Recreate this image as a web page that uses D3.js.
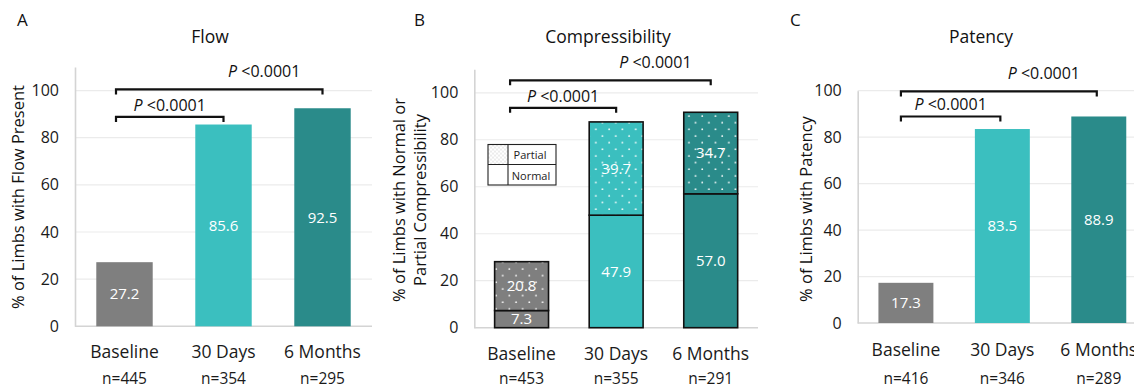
<!DOCTYPE html>
<html>
<head>
<meta charset="utf-8">
<script src="https://cdn.jsdelivr.net/npm/d3@7"></script>
<style>
  body { margin: 0; background: #fff; }
  svg { display: block; font-family: "Open Sans", sans-serif; }
</style>
</head>
<body>
<svg width="1134" height="388"></svg>
<script>
// data
const categories = ["Baseline", "30 Days", "6 Months"];
const yTicks = [0, 20, 40, 60, 80, 100];

const flowValues = [27.2, 85.6, 92.5];
const flowN = ["n=445", "n=354", "n=295"];

const compNormal = [7.3, 47.9, 57.0];
const compPartial = [20.8, 39.7, 34.7];
const compN = ["n=453", "n=355", "n=291"];

const patencyValues = [17.3, 83.5, 88.9];
const patencyN = ["n=416", "n=346", "n=289"];

const comparisons = [[0, 1], [0, 2]];
const pText = "<0.0001";

const colors = ["#7f7f7f", "#3bbfbf", "#2a8b8a"];

const svg = d3.select("svg");
const defs = svg.append("defs");

// dotted fill for the "partial" segments
colors.forEach((c, i) => {
    const p = defs.append("pattern")
        .attr("id", "dots" + i)
        .attr("patternUnits", "userSpaceOnUse")
        .attr("width", 13.3)
        .attr("height", 13.3);
    p.append("rect").attr("width", 13.3).attr("height", 13.3).attr("fill", c);
    p.append("circle").attr("cx", 4).attr("cy", 3).attr("r", 0.9).attr("fill", "#fff");
    p.append("circle").attr("cx", 10.65).attr("cy", 9.65).attr("r", 0.9).attr("fill", "#fff");
});
const lp = defs.append("pattern")
    .attr("id", "legendDots")
    .attr("patternUnits", "userSpaceOnUse")
    .attr("width", 4).attr("height", 4);
lp.append("rect").attr("width", 4).attr("height", 4).attr("fill", "#fff");
lp.append("circle").attr("cx", 1).attr("cy", 1).attr("r", 0.6).attr("fill", "#aaa");
lp.append("circle").attr("cx", 3).attr("cy", 3).attr("r", 0.6).attr("fill", "#aaa");

function drawPanel(cfg) {
    const g = svg.append("g");

    const x = d3.scaleBand()
        .domain(categories)
        .range([cfg.left, cfg.right])
        .paddingInner(0.43)
        .paddingOuter(0.215);
    const y = d3.scaleLinear()
        .domain([0, cfg.yMax])
        .range([cfg.bottom, cfg.top]);

    // gridlines
    g.append("g").selectAll("line")
        .data(yTicks.filter(d => d > 0))
        .enter().append("line")
        .attr("x1", cfg.left).attr("x2", cfg.gridEnd)
        .attr("y1", d => y(d)).attr("y2", d => y(d))
        .attr("stroke", "#ebebeb").attr("stroke-width", 1.2);

    // y axis
    const yAxis = g.append("g")
        .attr("transform", `translate(${cfg.left},0)`)
        .call(d3.axisLeft(y).tickValues(yTicks).tickSize(0).tickPadding(16));
    yAxis.select(".domain").attr("stroke", "#d4d4d4").attr("stroke-width", 1.6);
    yAxis.selectAll("text").attr("font-size", 16).attr("fill", "#1a1a1a").attr("font-family", "Open Sans");

    g.append("line")
        .attr("x1", cfg.left).attr("x2", cfg.gridEnd)
        .attr("y1", y(0)).attr("y2", y(0))
        .attr("stroke", "#d4d4d4").attr("stroke-width", 1.6);

    // x labels
    const xl = g.append("g").selectAll("g")
        .data(categories)
        .enter().append("g")
        .attr("transform", d => `translate(${x(d) + x.bandwidth() / 2},0)`);
    xl.append("text")
        .attr("y", cfg.catY)
        .attr("text-anchor", "middle")
        .attr("font-size", 17.5).attr("fill", "#1a1a1a")
        .text(d => d);
    xl.append("text")
        .attr("y", 384)
        .attr("text-anchor", "middle")
        .attr("font-size", 15.5).attr("fill", "#1a1a1a")
        .text((d, i) => cfg.n[i]);

    // bars
    cfg.drawBars(g, x, y);

    // significance brackets
    comparisons.forEach((pair, k) => {
        const by = y(cfg.bracketY[k]);
        const x1 = x(categories[pair[0]]) + x.bandwidth() / 2 + cfg.bracketOff[0];
        const x2 = x(categories[pair[1]]) + x.bandwidth() / 2 + cfg.bracketOff[1];
        g.append("path")
            .attr("d", `M${x1},${by + 5}V${by}H${x2}V${by + 5}`)
            .attr("fill", "none").attr("stroke", "#111").attr("stroke-width", 2.2);
        const t = g.append("text")
            .attr("x", (x1 + x2) / 2 + (k === 1 ? 45 : 0))
            .attr("y", by - (k === 1 ? 12 : 6))
            .attr("text-anchor", "middle")
            .attr("font-size", 16).attr("fill", "#111");
        t.append("tspan").attr("font-style", "italic").text("P");
        t.append("tspan").text(" " + pText);
    });

    // titles
    svg.append("text")
        .attr("x", cfg.letterX).attr("y", 26)
        .attr("font-size", 17).attr("fill", "#111")
        .text(cfg.letter);
    svg.append("text")
        .attr("x", cfg.titleX).attr("y", 43)
        .attr("text-anchor", "middle")
        .attr("font-size", 17.5).attr("fill", "#111")
        .text(cfg.title);
    const yt = svg.append("text")
        .attr("transform", `translate(${cfg.yTitleX},${cfg.yTitleY}) rotate(-90)`)
        .attr("text-anchor", "middle")
        .attr("font-size", 16.5).attr("fill", "#111");
    cfg.yTitle.forEach((line, i) => {
        yt.append("tspan").attr("x", 0).attr("dy", i === 0 ? 0 : "1.3em").text(line);
    });
}

function simpleBars(values) {
    return function (g, x, y) {
        const bars = g.append("g").selectAll("g")
            .data(values)
            .enter().append("g");
        bars.append("rect")
            .attr("x", (d, i) => x(categories[i]))
            .attr("width", x.bandwidth())
            .attr("y", d => y(d))
            .attr("height", d => y(0) - y(d))
            .attr("fill", (d, i) => colors[i]);
        bars.append("text")
            .attr("x", (d, i) => x(categories[i]) + x.bandwidth() / 2)
            .attr("y", d => (y(d) + y(0)) / 2)
            .attr("dy", "0.35em")
            .attr("text-anchor", "middle")
            .attr("font-size", 15).attr("fill", "#fff")
            .text(d => d.toFixed(1));
    };
}

function stackedBars(g, x, y) {
    const table = categories.map((c, i) => ({ cat: c, idx: i, normal: compNormal[i], partial: compPartial[i] }));
    const series = d3.stack().keys(["normal", "partial"])(table);
    series.forEach(s => {
        const seg = g.append("g").selectAll("g")
            .data(s)
            .enter().append("g");
        seg.append("rect")
            .attr("x", d => x(d.data.cat))
            .attr("width", x.bandwidth())
            .attr("y", d => y(d[1]))
            .attr("height", d => y(d[0]) - y(d[1]))
            .attr("fill", d => s.key === "partial" ? `url(#dots${d.data.idx})` : colors[d.data.idx])
            .attr("stroke", "#111").attr("stroke-width", 1.6);
        seg.append("text")
            .attr("x", d => x(d.data.cat) + x.bandwidth() / 2)
            .attr("y", d => (y(d[0]) + y(d[1])) / 2)
            .attr("dy", "0.35em")
            .attr("text-anchor", "middle")
            .attr("font-size", 15).attr("fill", "#fff")
            .text(d => d.data[s.key].toFixed(1));
    });

    // legend
    const lg = g.append("g").attr("transform", "translate(488,144.5)");
    lg.append("rect").attr("width", 20).attr("height", 20).attr("fill", "url(#legendDots)");
    lg.append("rect").attr("width", 68).attr("height", 40.5).attr("fill", "none")
        .attr("stroke", "#222").attr("stroke-width", 1.1);
    lg.append("line").attr("x1", 20).attr("x2", 20).attr("y1", 0).attr("y2", 40.5)
        .attr("stroke", "#222").attr("stroke-width", 1.1);
    lg.append("line").attr("x1", 0).attr("x2", 68).attr("y1", 20).attr("y2", 20)
        .attr("stroke", "#222").attr("stroke-width", 1.1);
    lg.append("text").attr("x", 42).attr("y", 14.5).attr("text-anchor", "middle")
        .attr("font-size", 11).attr("fill", "#222").text("Partial");
    lg.append("text").attr("x", 43).attr("y", 35).attr("text-anchor", "middle")
        .attr("font-size", 11).attr("fill", "#222").text("Normal");
}

drawPanel({
    letter: "A", letterX: 17, title: "Flow", titleX: 210,
    yTitle: ["% of Limbs with Flow Present"], yTitleX: 24, yTitleY: 197,
    left: 75, right: 372, gridEnd: 372, top: 67, bottom: 326.3, yMax: 110,
    catY: 358, n: flowN,
    bracketY: [88.8, 100.5], bracketOff: [-8.5, 0],
    drawBars: simpleBars(flowValues)
});

drawPanel({
    letter: "B", letterX: 414, title: "Compressibility", titleX: 608,
    yTitle: ["% of Limbs with Normal or", "Partial Compressibility"], yTitleX: 405, yTitleY: 200,
    left: 474.3, right: 758, gridEnd: 758, top: 69.3, bottom: 327.7, yMax: 110,
    catY: 360, n: compN,
    bracketY: [93.6, 105.3], bracketOff: [-11.5, 0],
    drawBars: stackedBars
});

drawPanel({
    letter: "C", letterX: 790, title: "Patency", titleX: 981,
    yTitle: ["% of Limbs with Patency"], yTitleX: 812, yTitleY: 209,
    left: 857.7, right: 1147, gridEnd: 1134, top: 90.7, bottom: 323, yMax: 100,
    catY: 356, n: patencyN,
    bracketY: [88.9, 99.7], bracketOff: [-5, -2],
    drawBars: simpleBars(patencyValues)
});
</script>
</body>
</html>
